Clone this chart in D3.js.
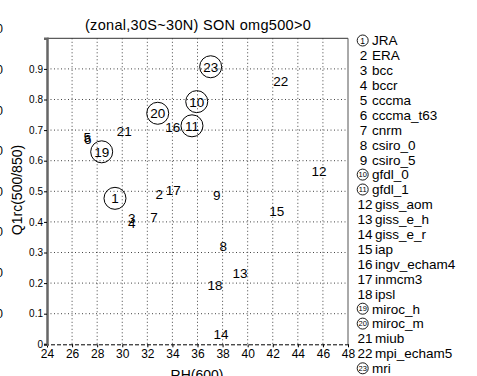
<!DOCTYPE html>
<html>
<head>
<meta charset="utf-8">
<script src="https://cdn.jsdelivr.net/npm/d3@7"></script>
<style>
  body { margin: 0; background: #fff; }
  text { font-family: "Liberation Sans", Arial, sans-serif; fill: #000; }
</style>
</head>
<body>
<svg width="477" height="376"></svg>
<script>
// model names, in legend order
const models = ["JRA","ERA","bcc","bccr","cccma","cccma_t63","cnrm","csiro_0","csiro_5",
                "gfdl_0","gfdl_1","giss_aom","giss_e_h","giss_e_r","iap","ingv_echam4",
                "inmcm3","ipsl","miroc_h","miroc_m","miub","mpi_echam5","mri"];
// RH(600) for each model
const rh   = [29.42, 32.96, 30.75, 30.75, 27.2, 27.25, 32.53, 38.06, 37.53,
              35.94, 35.56, 45.69, 39.39, 37.88, 42.32, 34.02,
              34.07, 37.4, 28.36, 32.83, 30.17, 42.64, 37.05];
// Q1rc(500/850) for each model
const q1rc = [0.477, 0.491, 0.413, 0.396, 0.678, 0.672, 0.414, 0.321, 0.488,
              0.793, 0.714, 0.567, 0.234, 0.034, 0.436, 0.711,
              0.504, 0.194, 0.629, 0.755, 0.695, 0.860, 0.907];
// which ones get a circle
const circled = [1, 10, 11, 19, 20, 23];
const xTicks = [24,26,28,30,32,34,36,38,40,42,44,46,48];
const yTicks = [0,0.1,0.2,0.3,0.4,0.5,0.6,0.7,0.8,0.9];

const svg = d3.select("svg");
const x = d3.scaleLinear().domain([24, 48]).range([47, 348]);
const y = d3.scaleLinear().domain([0, 1]).range([344.3, 38.3]);

const data = models.map((m, i) => ({n: i + 1, name: m, x: rh[i], y: q1rc[i], c: circled.includes(i + 1)}));

// bits of the neighbouring panel's tick labels, cut at the left edge
svg.append("g").selectAll("text")
  .data(d3.range(8))
  .enter().append("text")
    .attr("x", 3).attr("y", d => 29 + d * 40.6).attr("dy", "0.36em")
    .attr("text-anchor", "end").style("font-size", "12px")
    .text("0");

// grid
const grid = svg.append("g").attr("stroke", "#444").attr("stroke-dasharray", "1,2.5");
grid.selectAll(".vg").data(xTicks.slice(1, -1)).enter().append("line")
  .attr("x1", d => x(d)).attr("x2", d => x(d)).attr("y1", y(1)).attr("y2", y(0));
grid.selectAll(".hg").data(yTicks.slice(1)).enter().append("line")
  .attr("x1", x(24)).attr("x2", x(48)).attr("y1", d => y(d)).attr("y2", d => y(d));

// frame
svg.append("line").attr("x1", x(24)).attr("x2", x(48)).attr("y1", y(1)).attr("y2", y(1))
  .attr("stroke", "#333").attr("stroke-width", 1);
svg.append("line").attr("x1", x(48)).attr("x2", x(48)).attr("y1", y(1)).attr("y2", y(0))
  .attr("stroke", "#555").attr("stroke-width", 1);

// axes
const xAxis = svg.append("g")
  .attr("transform", `translate(0,${y(0)})`)
  .call(d3.axisBottom(x).tickValues(xTicks).tickFormat(d3.format("d")).tickSize(3).tickPadding(2));
xAxis.select(".domain").attr("stroke", "#000").attr("stroke-dasharray", "4,2");
xAxis.selectAll("text").style("font-size", "12px");

const yAxis = svg.append("g")
  .attr("transform", `translate(${x(24)},0)`)
  .call(d3.axisLeft(y).tickValues(yTicks).tickFormat(d => d === 0 ? "0" : d3.format(".1f")(d)).tickSize(3).tickPadding(1));
yAxis.select(".domain").attr("stroke", "#666").attr("stroke-width", 2.5);
yAxis.selectAll("text").style("font-size", "10px");

// titles
svg.append("text").attr("x", 198).attr("y", 30).attr("text-anchor", "middle")
  .style("font-size", "14.5px").style("letter-spacing", "0.3px")
  .text("(zonal,30S~30N)  SON  omg500>0");
svg.append("text").attr("x", 197).attr("y", 380).attr("text-anchor", "middle")
  .style("font-size", "14px").text("RH(600)");
svg.append("text").attr("transform", "translate(22,190) rotate(-90)").attr("text-anchor", "middle")
  .style("font-size", "14px").text("Q1rc(500/850)");

// points
const pts = svg.append("g");
pts.selectAll("circle").data(data.filter(d => d.c)).enter().append("circle")
  .attr("cx", d => x(d.x)).attr("cy", d => y(d.y)).attr("r", 11)
  .attr("fill", "none").attr("stroke", "#000").attr("stroke-width", 1);
pts.selectAll("text").data(data).enter().append("text")
  .attr("x", d => x(d.x)).attr("y", d => y(d.y)).attr("dy", "0.36em")
  .attr("text-anchor", "middle").style("font-size", "13.5px")
  .text(d => d.n);

// legend
const ly = i => 40.5 + i * 14.9;
const leg = svg.append("g");
leg.selectAll("circle").data(data.filter(d => d.c)).enter().append("circle")
  .attr("cx", 362.7).attr("cy", d => ly(d.n - 1)).attr("r", 5.5)
  .attr("fill", "none").attr("stroke", "#000").attr("stroke-width", 0.9);
leg.selectAll(".num").data(data).enter().append("text")
  .attr("x", d => d.c ? 362.7 : (d.n < 10 ? 363.5 : 365))
  .attr("y", d => ly(d.n - 1)).attr("dy", "0.36em").attr("text-anchor", "middle")
  .style("font-size", d => d.c ? (d.n < 10 ? "8.5px" : "7.5px") : "13.5px")
  .text(d => d.n);
leg.selectAll(".nm").data(data).enter().append("text")
  .attr("x", d => (d.c || d.n < 10) ? 372 : 375)
  .attr("y", d => ly(d.n - 1)).attr("dy", "0.36em")
  .style("font-size", "13.5px")
  .text(d => d.name);
</script>
</body>
</html>
